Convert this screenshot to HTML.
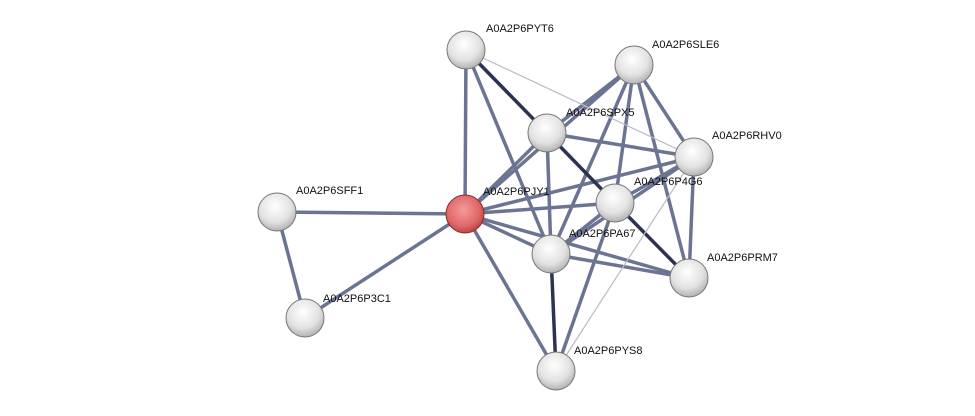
<!DOCTYPE html>
<html><head><meta charset="utf-8"><style>
html,body{margin:0;padding:0;background:#fff;}
svg{display:block;}
text{font-family:"Liberation Sans",sans-serif;font-size:11px;fill:#111;}
</style></head><body>
<svg width="975" height="416" viewBox="0 0 975 416" xmlns="http://www.w3.org/2000/svg">
<defs>
<radialGradient id="g" cx="0.45" cy="0.35" r="0.7">
<stop offset="0" stop-color="#ffffff"/><stop offset="0.6" stop-color="#e2e2e2"/><stop offset="1" stop-color="#a8a8a8"/></radialGradient>
<radialGradient id="r" cx="0.45" cy="0.4" r="0.7">
<stop offset="0" stop-color="#f59a9a"/><stop offset="0.6" stop-color="#e06868"/><stop offset="1" stop-color="#a83434"/></radialGradient>
</defs>
<g stroke="#646d8e" stroke-width="3.5" stroke-linecap="round" opacity="0.95">
<line x1="465" y1="214" x2="277" y2="212"/>
<line x1="465" y1="214" x2="305" y2="318"/>
<line x1="277" y1="212" x2="305" y2="318"/>
<line x1="465" y1="214" x2="466" y2="50"/>
<line x1="465" y1="214" x2="547" y2="133"/>
<line x1="465" y1="214" x2="634" y2="65"/>
<line x1="465" y1="214" x2="694" y2="157"/>
<line x1="465" y1="214" x2="615" y2="203"/>
<line x1="465" y1="214" x2="551" y2="254"/>
<line x1="465" y1="214" x2="689" y2="278"/>
<line x1="465" y1="214" x2="556" y2="371"/>
<line x1="466" y1="50" x2="551" y2="254"/>
<line x1="547" y1="133" x2="634" y2="65"/>
<line x1="547" y1="133" x2="694" y2="157"/>
<line x1="547" y1="133" x2="551" y2="254"/>
<line x1="634" y1="65" x2="694" y2="157"/>
<line x1="634" y1="65" x2="615" y2="203"/>
<line x1="634" y1="65" x2="551" y2="254"/>
<line x1="634" y1="65" x2="689" y2="278"/>
<line x1="694" y1="157" x2="615" y2="203"/>
<line x1="694" y1="157" x2="551" y2="254"/>
<line x1="694" y1="157" x2="689" y2="278"/>
<line x1="615" y1="203" x2="551" y2="254"/>
<line x1="615" y1="203" x2="556" y2="371"/>
<line x1="551" y1="254" x2="689" y2="278"/>
</g>
<g stroke="#2c3352" stroke-width="3.5" stroke-linecap="round">
<line x1="466" y1="50" x2="547" y2="133"/>
<line x1="547" y1="133" x2="615" y2="203"/>
<line x1="615" y1="203" x2="689" y2="278"/>
<line x1="551" y1="254" x2="556" y2="371"/>
</g>
<g stroke="#b8bccb" stroke-width="1.2">
<line x1="466" y1="50" x2="694" y2="157"/>
<line x1="694" y1="157" x2="556" y2="371"/>
</g>
<g stroke="#777" stroke-width="1">
<circle cx="466" cy="50" r="19" fill="url(#g)"/>
<circle cx="634" cy="65" r="19" fill="url(#g)"/>
<circle cx="547" cy="133" r="19" fill="url(#g)"/>
<circle cx="694" cy="157" r="19" fill="url(#g)"/>
<circle cx="615" cy="203" r="19" fill="url(#g)"/>
<circle cx="551" cy="254" r="19" fill="url(#g)"/>
<circle cx="689" cy="278" r="19" fill="url(#g)"/>
<circle cx="277" cy="212" r="19" fill="url(#g)"/>
<circle cx="305" cy="318" r="19" fill="url(#g)"/>
<circle cx="556" cy="371" r="19" fill="url(#g)"/>
<circle cx="465" cy="214" r="19" fill="url(#r)" stroke="#8a2a2a"/>
</g>
<text x="486" y="32">A0A2P6PYT6</text>
<text x="652" y="48">A0A2P6SLE6</text>
<text x="566" y="116">A0A2P6SPX5</text>
<text x="712" y="139">A0A2P6RHV0</text>
<text x="483" y="195">A0A2P6PJY1</text>
<text x="634" y="185">A0A2P6P4G6</text>
<text x="569" y="237">A0A2P6PA67</text>
<text x="707" y="261">A0A2P6PRM7</text>
<text x="296" y="194">A0A2P6SFF1</text>
<text x="323" y="302">A0A2P6P3C1</text>
<text x="574" y="354">A0A2P6PYS8</text>
</svg>
</body></html>
